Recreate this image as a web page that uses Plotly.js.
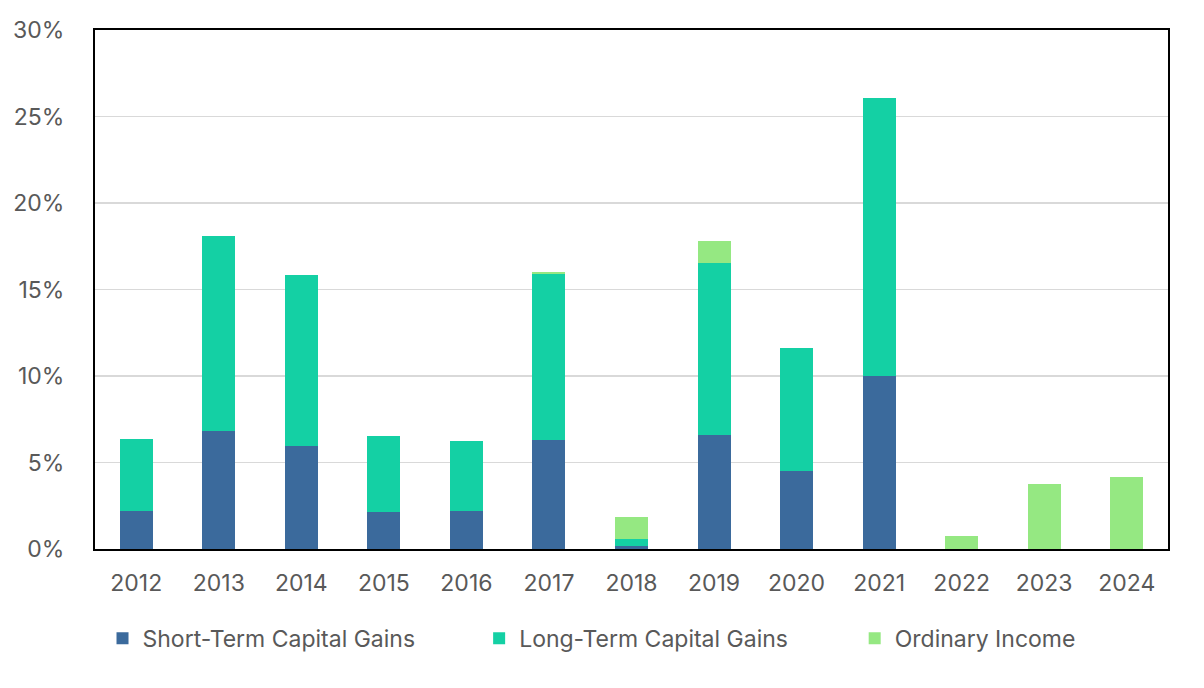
<!DOCTYPE html>
<html>
<head>
<meta charset="utf-8">
<script src="https://cdn.plot.ly/plotly-3.0.1.min.js"></script>
<style>html,body{margin:0;padding:0;background:#fff;}#chart{width:1204px;height:688px;}</style>
</head>
<body>
<div id="chart"></div>
<script>
const years = ['2012','2013','2014','2015','2016','2017','2018','2019','2020','2021','2022','2023','2024'];
const shortTerm = [2.2, 6.82, 5.95, 2.14, 2.2, 6.3, 0.2, 6.59, 4.5, 10.0, 0, 0, 0];
const longTerm = [4.16, 11.27, 9.89, 4.39, 4.04, 9.58, 0.4, 9.96, 7.12, 16.07, 0, 0, 0];
const ordinaryIncome = [0, 0, 0, 0, 0, 0.12, 1.23, 1.25, 0, 0, 0.77, 3.74, 4.18];
const yTickVals = [0, 5, 10, 15, 20, 25, 30];
const yTickText = ['0%', '5%', '10%', '15%', '20%', '25%', '30%'];

const font = {family: 'Inter, "Noto Sans", sans-serif', size: 23, color: '#595959'};
const traces = [
  {type: 'bar', name: 'Short-Term Capital Gains', x: years, y: shortTerm, marker: {color: '#3b6a9c'}, legend: 'legend'},
  {type: 'bar', name: 'Long-Term Capital Gains', x: years, y: longTerm, marker: {color: '#14d0a4'}, legend: 'legend2'},
  {type: 'bar', name: 'Ordinary Income', x: years, y: ordinaryIncome, marker: {color: '#95e882'}, legend: 'legend3'}
];
const legBase = {orientation: 'h', xanchor: 'left', y: -0.172, yanchor: 'middle', font: font, itemwidth: 30};
const layout = {
  width: 1204, height: 688,
  barmode: 'stack', bargap: 0.6,
  margin: {l: 95, r: 36, t: 30, b: 139},
  paper_bgcolor: '#fff', plot_bgcolor: '#fff',
  font: font,
  showlegend: true,
  legend: Object.assign({}, legBase, {x: 0.007}),
  legend2: Object.assign({}, legBase, {x: 0.358}),
  legend3: Object.assign({}, legBase, {x: 0.708}),
  xaxis: {type: 'category', showline: true, linecolor: '#000', linewidth: 2, mirror: true, ticks: '', tickfont: font,
          showgrid: false, ticklabelstandoff: 12},
  yaxis: {range: [0, 30], tickvals: yTickVals, ticktext: yTickText, showline: true, linecolor: '#000', linewidth: 2, mirror: true,
          gridcolor: '#d9d9d9', gridwidth: 1.5, ticks: '', tickfont: font, zeroline: false, ticklabelstandoff: 24}
};
Plotly.newPlot('chart', traces, layout, {displayModeBar: false, staticPlot: true});
</script>
</body>
</html>
